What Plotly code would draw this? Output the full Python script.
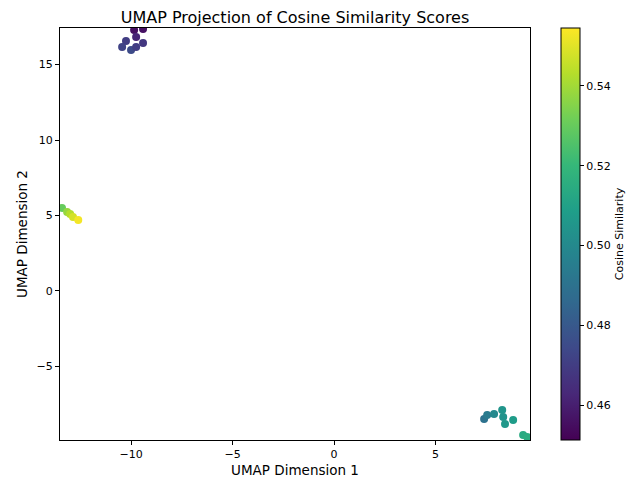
import plotly.graph_objects as go

# Data
umap_x = [-9.85, -9.41, -9.75, -10.25, -9.41, -10.44, -10.0, -9.75,
          -13.4, -13.15, -13.0, -12.86, -12.6,
          7.39, 7.54, 7.88, 8.28, 8.33, 8.42, 8.82, 9.31, 9.51]
umap_y = [17.28, 17.35, 16.82, 16.56, 16.42, 16.16, 15.96, 16.16,
          5.5, 5.23, 5.1, 4.9, 4.7,
          -8.48, -8.21, -8.15, -7.88, -8.34, -8.81, -8.54, -9.54, -9.67]
cos_sim = [0.455, 0.456, 0.462, 0.470, 0.468, 0.472, 0.475, 0.470,
           0.530, 0.538, 0.543, 0.548, 0.553,
           0.490, 0.494, 0.500, 0.505, 0.504, 0.506, 0.508, 0.514, 0.515]

# page body has an 8px margin, so the figure is drawn 8px in from the top-left
W, H = 631, 470

fig = go.Figure()
fig.add_trace(go.Scatter(
    x=umap_x, y=umap_y, mode="markers",
    marker=dict(size=8, color=cos_sim, colorscale="Viridis",
                cmin=0.4513, cmax=0.5545,
                colorbar=dict(
                    title=dict(text="Cosine Similarity", side="right",
                               font=dict(size=11, color="black")),
                    x=(561 - 60) / 470, xanchor="left", xref="paper",
                    y=0.5, yanchor="middle", len=1, lenmode="fraction",
                    thickness=19, outlinewidth=1, outlinecolor="black",
                    ticks="outside", ticklen=4, tickcolor="black",
                    tickvals=[0.46, 0.48, 0.50, 0.52, 0.54],
                    ticktext=["0.46", "0.48", "0.50", "0.52", "0.54"],
                    tickfont=dict(size=11, color="black"),
                    xpad=0, ypad=0),
                line=dict(width=0)),
    showlegend=False,
))

axis_common = dict(showline=True, linecolor="black", linewidth=1, mirror=True,
                   ticks="outside", ticklen=4, tickcolor="black",
                   showgrid=False, zeroline=False, automargin=False,
                   tickfont=dict(size=11, color="black"))

fig.update_layout(
    width=W, height=H,
    margin=dict(l=52, r=109, t=20, b=38, autoexpand=False),
    paper_bgcolor="white", plot_bgcolor="white",
    font=dict(family="DejaVu Sans", color="black"),
    title=dict(text="UMAP Projection of Cosine Similarity Scores",
               xref="paper", x=0.5, xanchor="center",
               yref="container", y=1 - 9 / H, yanchor="middle",
               font=dict(size=16, color="black")),
    xaxis=dict(range=[-13.5, 9.65], tickvals=[-10, -5, 0, 5],
               ticktext=["\u221210", "\u22125", "0", "5"],
               title=dict(text="UMAP Dimension 1", font=dict(size=13.5), standoff=6),
               **axis_common),
    yaxis=dict(range=[-9.87, 17.42], tickvals=[-5, 0, 5, 10, 15],
               ticktext=["\u22125", "0", "5", "10", "15"],
               title=dict(text="UMAP Dimension 2", font=dict(size=13.5), standoff=5),
               **axis_common),
)

fig.write_html("out.html")
